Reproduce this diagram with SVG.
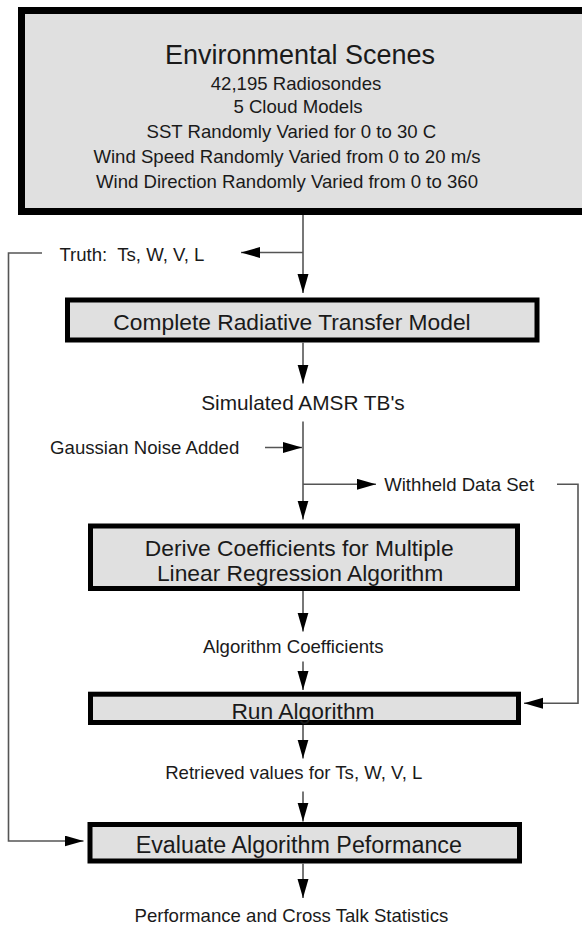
<svg xmlns="http://www.w3.org/2000/svg" width="582" height="925" viewBox="0 0 582 925">
<style>
.box{fill:#e0e0e0;stroke:#000;}
.t{font-family:"Liberation Sans",Arial,sans-serif;fill:#1a1a1a;}
.lbl{font-size:18.6px;}
.bt{font-size:22.8px;}
.conn{fill:none;stroke:#555;stroke-width:1.6;}
</style>
<defs>
<marker id="ah" markerUnits="userSpaceOnUse" markerWidth="20" markerHeight="12" refX="19" refY="5.5" orient="auto">
<path d="M0,0 L19,5.5 L0,11 z" fill="#000"/>
</marker>
</defs>
<rect width="582" height="925" fill="#fff"/>
<g id="env">
<rect class="box" x="21.5" y="10.5" width="580" height="201" stroke-width="7"/>
<text class="t" x="300" y="64" style="font-size:27px" text-anchor="middle">Environmental Scenes</text>
<text class="t lbl" x="296" y="90" text-anchor="middle">42,195 Radiosondes</text>
<text class="t lbl" x="298" y="113.3" text-anchor="middle">5 Cloud Models</text>
<text class="t lbl" x="291.4" y="138.3" text-anchor="middle">SST Randomly Varied for 0 to 30 C</text>
<text class="t lbl" x="287" y="163.3" text-anchor="middle">Wind Speed Randomly Varied from 0 to 20 m/s</text>
<text class="t lbl" x="287" y="187.7" text-anchor="middle">Wind Direction Randomly Varied from 0 to 360</text>
</g>
<g id="truth"><text class="t lbl" x="59.4" y="260.7" xml:space="preserve" style="white-space:pre">Truth:  Ts, W, V, L</text></g>
<g id="crtm">
<rect class="box" x="67.5" y="300" width="469.5" height="40" stroke-width="5"/>
<text class="t bt" x="292" y="330" text-anchor="middle">Complete Radiative Transfer Model</text>
</g>
<g id="simulated"><text class="t" x="303" y="410" style="font-size:20.8px" text-anchor="middle">Simulated AMSR TB's</text></g>
<g id="noise"><text class="t lbl" x="50.1" y="454">Gaussian Noise Added</text></g>
<g id="withheld"><text class="t lbl" x="384.2" y="490.7">Withheld Data Set</text></g>
<g id="derive">
<rect class="box" x="90.5" y="526" width="427" height="62.5" stroke-width="5"/>
<text class="t bt" x="299.2" y="556" text-anchor="middle">Derive Coefficients for Multiple</text>
<text class="t bt" x="300.1" y="580.7" text-anchor="middle">Linear Regression Algorithm</text>
</g>
<g id="coeffs"><text class="t lbl" x="293.3" y="653" text-anchor="middle">Algorithm Coefficients</text></g>
<g id="run">
<rect class="box" x="90.5" y="694.2" width="428" height="28.3" stroke-width="5"/>
<text class="t bt" x="303" y="719.3" text-anchor="middle">Run Algorithm</text>
</g>
<g id="retrieved"><text class="t lbl" x="293.8" y="779.3" text-anchor="middle">Retrieved values for Ts, W, V, L</text></g>
<g id="evaluate">
<rect class="box" x="90" y="824.5" width="429.5" height="36.5" stroke-width="5"/>
<text class="t" x="298.8" y="853.3" text-anchor="middle" style="font-size:23.3px">Evaluate Algorithm Peformance</text>
</g>
<g id="stats"><text class="t lbl" x="291.4" y="921.5" text-anchor="middle">Performance and Cross Talk Statistics</text></g>
<g id="connectors">
<line class="conn" x1="303" y1="215" x2="303" y2="293" marker-end="url(#ah)"/>
<line class="conn" x1="303" y1="252.5" x2="241" y2="252.5" marker-end="url(#ah)"/>
<polyline class="conn" points="42,253 8.5,253 8.5,841 83.5,841" marker-end="url(#ah)"/>
<line class="conn" x1="303" y1="342.5" x2="303" y2="383.5" marker-end="url(#ah)"/>
<line class="conn" x1="303" y1="421.5" x2="303" y2="519.5" marker-end="url(#ah)"/>
<line class="conn" x1="265" y1="447.5" x2="302" y2="447.5" marker-end="url(#ah)"/>
<line class="conn" x1="303" y1="484.3" x2="376" y2="484.3" marker-end="url(#ah)"/>
<polyline class="conn" points="557,484.3 578,484.3 578,703.3 524,703.3" marker-end="url(#ah)"/>
<line class="conn" x1="303" y1="591" x2="303" y2="631.5" marker-end="url(#ah)"/>
<line class="conn" x1="303" y1="661.5" x2="303" y2="690" marker-end="url(#ah)"/>
<line class="conn" x1="303" y1="725" x2="303" y2="758.5" marker-end="url(#ah)"/>
<line class="conn" x1="303" y1="791.5" x2="303" y2="821.5" marker-end="url(#ah)"/>
<line class="conn" x1="303" y1="863.5" x2="303" y2="898" marker-end="url(#ah)"/>
</g>
</svg>
